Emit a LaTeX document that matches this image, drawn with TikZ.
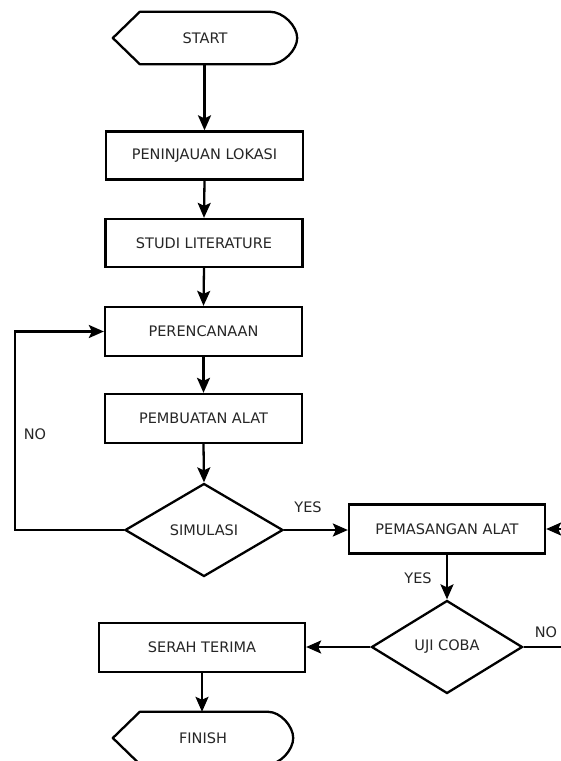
\documentclass[tikz,border=0pt]{standalone}
\usepackage{fontspec}
\setmainfont{DejaVu Sans}
\usetikzlibrary{arrows.meta,shapes.geometric}
\begin{document}
\begin{tikzpicture}[x=1pt,y=-1pt,
  every node/.style={font=\fontsize{14.5}{16}\selectfont, text=black!85},
  line/.style={line width=2.3pt, black},
  arr/.style={line, -{Stealth[length=15pt,width=13pt,inset=3pt]}},
  procbox/.style={draw, line width=2.3pt, rectangle, minimum width=197pt, minimum height=48pt, inner sep=0pt},
  decbox/.style={draw, line width=2.3pt, diamond, minimum width=158pt, minimum height=93pt, inner sep=0pt},
  termbox/.style={rectangle, draw=none, minimum width=184pt, minimum height=52pt, inner sep=0pt},
  lbl/.style={inner sep=0pt}
]
\useasboundingbox (0,0) rectangle (561,761);
\fill[white] (0,0) rectangle (561,761);

% terminals
\node[termbox] (start) at (205,38) {START};
\draw[line, line join=round] (start.west) -- ([xshift=27pt]start.north west) -- ([xshift=-27pt]start.north east)
  .. controls ([xshift=-14pt]start.north east) and ([yshift=12pt]start.east) .. (start.east)
  .. controls ([yshift=-12pt]start.east) and ([xshift=-14pt]start.south east) .. ([xshift=-27pt]start.south east)
  -- ([xshift=27pt]start.south west) -- cycle;

\node[termbox, minimum width=180pt] (finish) at (203,738) {FINISH};
\draw[line, line join=round] (finish.west) -- ([xshift=27pt]finish.north west) -- ([xshift=-25pt]finish.north east)
  .. controls ([xshift=-13pt]finish.north east) and ([yshift=12pt]finish.east) .. (finish.east)
  .. controls ([yshift=-12pt]finish.east) and ([xshift=-13pt]finish.south east) .. ([xshift=-25pt]finish.south east)
  -- ([xshift=27pt]finish.south west) -- cycle;

% process boxes
\node[procbox] (lok) at (204.5,155.5) {PENINJAUAN LOKASI};
\node[procbox] (lit) at (204,243) {STUDI LITERATURE};
\node[procbox, minimum height=49pt] (ren) at (203.5,331.5) {PERENCANAAN};
\node[procbox, minimum height=49pt] (buat) at (203.5,418.5) {PEMBUATAN ALAT};
\node[procbox, minimum width=196pt, minimum height=49pt] (pasang) at (447,529) {PEMASANGAN ALAT};
\node[procbox, minimum width=206pt, minimum height=49pt] (serah) at (202,647.5) {SERAH TERIMA};

% decisions
\node[decbox] (sim) at (204,530) {SIMULASI};
\node[decbox, minimum width=151pt] (uji) at (447,647) {UJI COBA};

% helper coordinates
\coordinate (loopL) at (15,530);
\coordinate (edgeA) at (562,647);
\coordinate (edgeB) at (562,529);

% connectors
\draw[arr] (start.south -| lok.north) -- (lok.north);
\draw[arr] (lok.south) -- (lit.north);
\draw[arr] (lit.south) -- (ren.north);
\draw[arr] (ren.south) -- (buat.north);
\draw[arr] (buat.south) -- (sim.north);
\draw[arr] (sim.west) -- (loopL) |- (ren.west);
\draw[arr] (sim.east) -- (sim.east -| pasang.west);
\draw[arr] (pasang.south) -- (uji.north);
\draw[arr] (uji.west) -- (uji.west -| serah.east);
\draw[arr] (serah.south) -- (serah.south |- finish.north);
\draw[line] (uji.east) -- (edgeA);
\draw[arr] (edgeB) -- (pasang.east);

% labels
\node[lbl] (lno1) at (35,434) {NO};
\node[lbl] (lyes1) at (308,507) {YES};
\node[lbl] (lyes2) at (418,578) {YES};
\node[lbl] (lno2) at (546,632) {NO};
\end{tikzpicture}
\end{document}
